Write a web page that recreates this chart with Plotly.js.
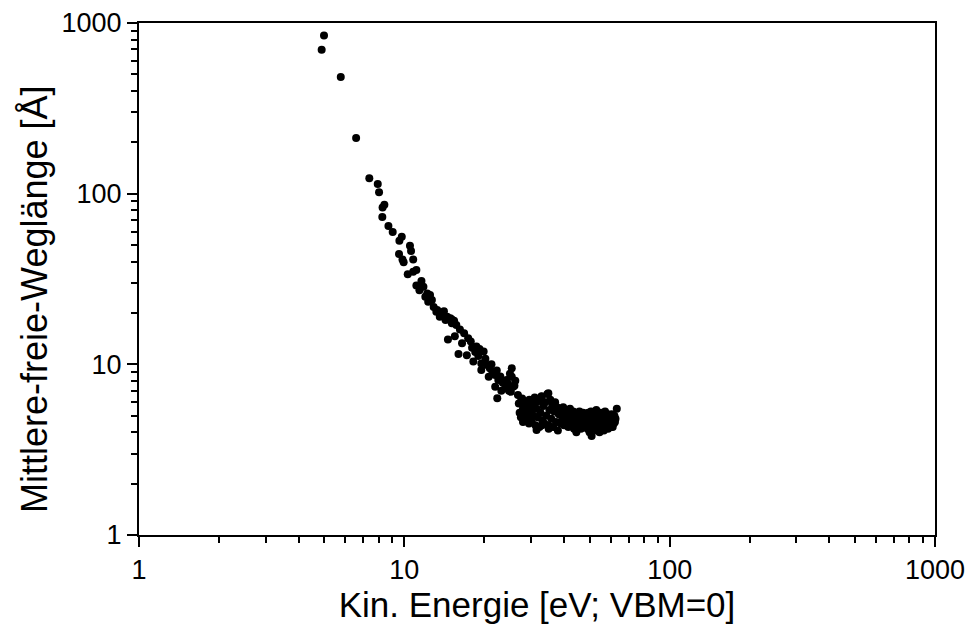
<!DOCTYPE html>
<html>
<head>
<meta charset="utf-8">
<script src="https://cdn.plot.ly/plotly-3.0.1.min.js"></script>
<style>html,body{margin:0;padding:0;background:#fff;}#chart{width:969px;height:626px;}</style>
</head>
<body>
<div id="chart"></div>
<script>
// Kinetic energy [eV; VBM=0]
const energy = [
  4.88, 4.98, 5.76, 6.58, 7.38, 7.94, 8.03, 8.28, 8.41, 8.26,
  8.71, 9.04, 9.58, 9.78, 10.5, 10.6, 9.55, 9.84, 10.8, 9.94,
  11.1, 10.8, 10.3, 11.6, 11.1, 11.4, 12.0, 12.3, 12.9, 13.2,
  13.6, 14.5, 15.1, 11.8, 12.2, 12.5, 12.7, 13.3, 13.8, 14.1,
  14.3, 14.9, 15.1, 15.4, 15.7, 16.2, 15.5, 14.6, 17.4, 16.5,
  16.0, 17.2, 18.7, 19.9, 18.2, 19.5, 19.5, 21.0, 20.8, 22.0,
  22.6, 25.4, 25.4, 24.3, 22.0, 24.0, 25.7, 22.4, 26.8, 27.6,
  28.9, 31.5, 16.8, 17.8, 18.0, 18.5, 19.0, 19.2, 20.2, 20.5,
  21.3, 21.5, 22.3, 23.0, 23.5, 24.6, 25.0, 23.2, 24.8, 25.2,
  26.0, 26.2,
  27.0, 27.2, 27.5, 27.8, 28.0, 28.3, 28.5, 28.8, 29.0, 29.3,
  29.6, 29.9, 30.2, 30.5, 30.7, 31.0, 31.2, 31.5, 31.8, 32.0,
  32.3, 32.6, 32.9, 33.1, 33.4, 33.7, 34.0, 34.3, 34.6, 34.9,
  35.2, 35.5, 35.8, 36.1, 36.4, 36.7, 37.0, 37.3, 37.6, 37.9,
  38.2, 38.5, 38.8, 39.1, 39.4, 39.7, 40.0, 40.3, 40.6, 40.9,
  41.2, 41.5, 41.8, 42.1, 42.4, 42.7, 43.0, 43.3, 43.6, 43.9,
  44.2, 44.5, 44.8, 45.1, 45.4, 45.7, 46.0, 46.3, 46.6, 46.9,
  47.2, 47.5, 47.8, 48.1, 48.4, 48.7, 49.0, 49.3, 49.6, 49.9,
  50.2, 50.5, 50.8, 51.1, 51.4, 51.7, 52.0, 52.3, 52.6, 52.9,
  53.2, 53.5, 53.8, 54.1, 54.4, 54.7, 55.0, 55.3, 55.6, 55.9,
  56.2, 56.5, 56.8, 57.1, 57.4, 57.7, 58.0, 58.3, 58.6, 58.9,
  59.2, 59.5, 59.8, 60.1, 60.4, 60.7, 61.0, 61.3, 61.6, 61.9,
  62.2, 62.5, 63.2, 28.0, 29.5, 31.5, 33.0, 35.0, 32.9, 34.9
];
// Mean free path [Å]
const meanFreePath = [
  697, 846, 482, 212, 123, 114, 102, 83, 86, 73,
  64.6, 59.6, 53, 55.9, 49.5, 46.1, 44.3, 41.2, 41.2, 39.7,
  35.7, 34.9, 33.7, 30.8, 29.0, 27.2, 24.9, 23.3, 21.7, 20.3,
  19.0, 19.0, 18.3, 28.5, 26.0, 25.5, 23.8, 20.8, 19.9, 20.5,
  18.2, 18.6, 17.4, 18.0, 17.0, 16.0, 14.6, 14.0, 14.2, 13.3,
  11.5, 11.3, 12.7, 11.9, 10.4, 10.1, 9.26, 9.47, 8.46, 8.65,
  8.09, 9.47, 8.46, 8.09, 7.39, 7.23, 7.39, 6.32, 6.61, 6.18,
  5.78, 6.04, 15.2, 13.6, 12.5, 11.8, 11.2, 12.3, 10.8, 9.9,
  10.0, 9.0, 9.2, 8.5, 7.8, 7.7, 8.8, 7.0, 7.0, 6.9,
  7.5, 8.0,
  5.9, 5.2, 4.9, 6.3, 5.5, 4.7, 6.0, 5.1, 5.6, 4.8,
  6.2, 5.3, 4.6, 5.8, 5.0, 6.4, 4.4, 5.5, 4.9, 6.1,
  4.3, 5.2, 6.5, 4.7, 5.7, 4.5, 6.0, 5.0, 6.7, 4.4,
  5.4, 6.2, 4.8, 5.8, 4.3, 5.3, 6.0, 4.6, 5.6, 4.1,
  5.1, 5.5, 4.5, 5.3, 4.8, 5.6, 4.4, 5.0, 5.4, 4.6,
  5.2, 4.3, 4.9, 5.5, 4.5, 5.1, 4.7, 5.3, 4.2, 4.9,
  5.2, 4.0, 4.6, 5.0, 4.4, 5.3, 4.7, 4.2, 5.0, 4.5,
  5.2, 4.3, 4.8, 5.1, 4.4, 4.9, 4.2, 5.2, 4.6, 4.0,
  4.8, 5.3, 3.8, 4.5, 5.0, 4.2, 4.7, 5.1, 4.4, 5.4,
  4.1, 4.8, 4.3, 5.0, 4.0, 4.6, 5.2, 4.2, 4.8, 4.5,
  5.0, 4.1, 4.7, 5.3, 4.3, 4.9, 4.4, 5.1, 4.2, 4.7,
  5.0, 4.4, 4.8, 4.3, 5.1, 4.6, 4.3, 4.9, 4.5, 5.0,
  4.6, 4.8, 5.5, 4.6, 4.5, 4.12, 4.4, 4.2, 6.46, 6.76
];
const tickValues = [1, 10, 100, 1000];
const tickLabels = ["1", "10", "100", "1000"];
const minorTickValues = [2,3,4,5,6,7,8,9,20,30,40,50,60,70,80,90,200,300,400,500,600,700,800,900];

const font = "Liberation Sans, Arial, sans-serif";
const axisCommon = {
  type: "log",
  range: [0, 3],
  tickmode: "array",
  tickvals: tickValues,
  ticktext: tickLabels,
  ticks: "outside",
  ticklen: 10,
  tickwidth: 2,
  tickcolor: "#000",
  showline: true,
  linewidth: 2,
  linecolor: "#000",
  mirror: true,
  showgrid: false,
  zeroline: false,
  tickfont: {family: font, size: 27, color: "#000"},
  minor: {ticks: "outside", ticklen: 6, tickwidth: 2, tickcolor: "#000", showgrid: false,
          tickvals: minorTickValues}
};

const trace = {
  x: energy,
  y: meanFreePath,
  type: "scatter",
  mode: "markers",
  marker: {color: "#000", size: 8},
  showlegend: false
};

const layout = {
  width: 969,
  height: 626,
  paper_bgcolor: "#fff",
  plot_bgcolor: "#fff",
  margin: {l: 139, r: 34, t: 23, b: 91},
  font: {family: font, color: "#000"},
  xaxis: Object.assign({}, axisCommon, {
    title: {text: "Kin. Energie [eV; VBM=0]", font: {family: font, size: 35, color: "#000"}, standoff: 1}
  }),
  yaxis: Object.assign({}, axisCommon),
  annotations: [{
    text: "Mittlere-freie-Weglänge [Å]",
    xref: "paper", yref: "paper",
    x: -0.1307, y: 0.461,
    xanchor: "center", yanchor: "middle",
    textangle: -90,
    showarrow: false,
    font: {family: font, size: 36, color: "#000"}
  }]
};

Plotly.newPlot("chart", [trace], layout, {displayModeBar: false, staticPlot: true});
</script>
</body>
</html>
